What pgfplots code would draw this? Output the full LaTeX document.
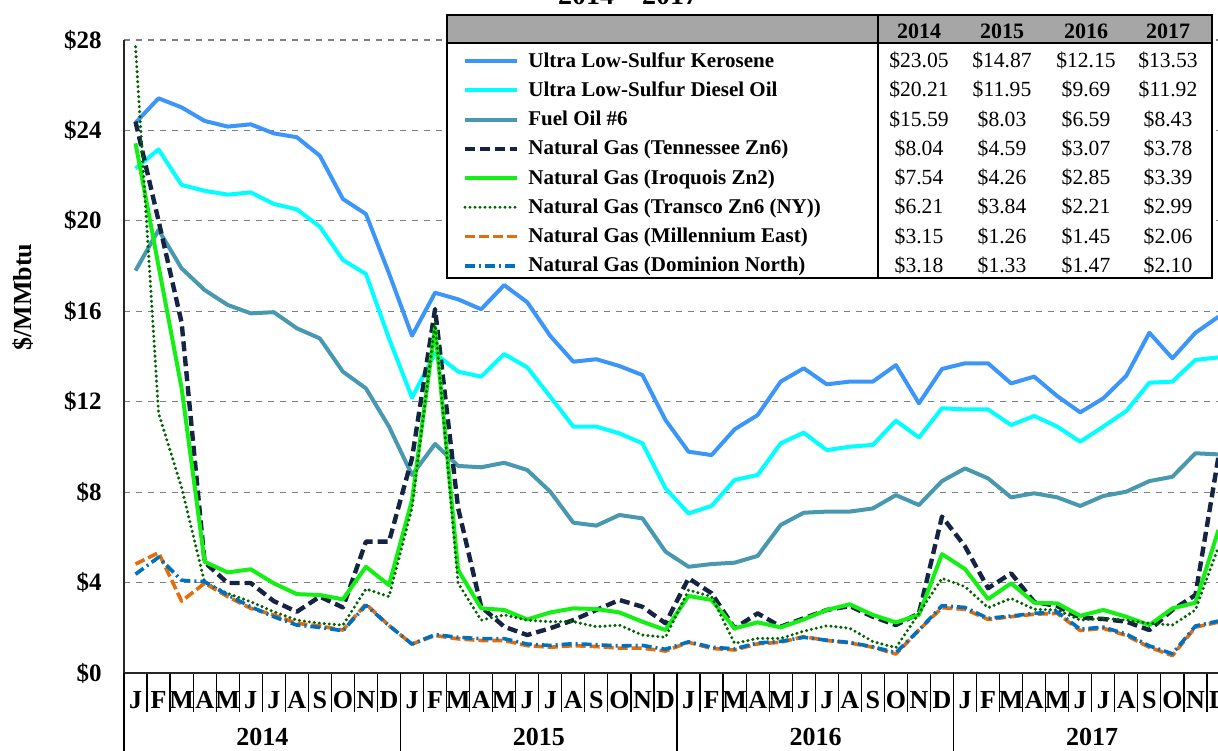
\documentclass[border=0pt]{standalone}
\usepackage{fontspec}
\setmainfont{Liberation Serif}
\usepackage{pgfplots}
\usepackage{pgfplotstable}
\pgfplotsset{compat=1.18}

\newcommand{\fs}[1]{\fontsize{#1}{#1}\selectfont}

\definecolor{kerC}{RGB}{60,150,250}
\definecolor{dslC}{RGB}{0,255,255}
\definecolor{fuoC}{RGB}{72,152,176}
\definecolor{tenC}{RGB}{20,36,66}
\definecolor{iroC}{RGB}{20,240,20}
\definecolor{traC}{RGB}{0,100,0}
\definecolor{milC}{RGB}{228,108,10}
\definecolor{domC}{RGB}{0,112,192}
\definecolor{hdrC}{RGB}{166,166,166}

\tikzset{
  kerS/.style={kerC, line width=2pt, line join=round},
  dslS/.style={dslC, line width=2pt, line join=round},
  fuoS/.style={fuoC, line width=2pt, line join=round},
  tenS/.style={tenC, line width=2.2pt, line join=round, dash pattern=on 5pt off 2.5pt},
  iroS/.style={iroC, line width=2pt, line join=round},
  traS/.style={traC, line width=1.7pt, line cap=round, dash pattern=on 0pt off 2.5pt},
  milS/.style={milC, line width=1.8pt, line join=round, dash pattern=on 5pt off 2pt},
  domS/.style={domC, line width=1.8pt, line join=round, dash pattern=on 5pt off 2pt on 1pt off 2pt},
}

% monthly average prices, $/MMbtu, Jan 2014 (m=0) .. Dec 2017 (m=47)
\pgfplotstableread{
m ker dsl fo6 ten iro tra mil dom
0 24.34 22.32 17.80 24.39 23.43 27.70 4.82 4.37
1 25.42 23.16 19.60 20.00 18.00 11.50 5.32 5.12
2 25.02 21.59 17.90 15.50 12.60 8.20 3.18 4.10
3 24.42 21.33 16.94 4.90 4.92 4.00 3.97 4.04
4 24.17 21.16 16.28 3.98 4.45 3.52 3.38 3.45
5 24.27 21.26 15.91 3.98 4.59 3.15 2.86 2.93
6 23.87 20.75 15.96 3.18 3.97 2.71 2.57 2.49
7 23.70 20.51 15.25 2.71 3.49 2.34 2.20 2.12
8 22.88 19.74 14.80 3.38 3.45 2.20 2.08 2.02
9 20.97 18.27 13.33 2.90 3.26 2.12 1.90 1.87
10 20.30 17.65 12.59 5.81 4.70 3.72 3.05 3.00
11 17.68 14.80 10.90 5.81 3.89 3.38 2.10 2.10
12 14.92 12.18 8.76 9.50 7.65 7.30 1.28 1.28
13 16.82 14.14 10.13 16.10 15.30 15.50 1.66 1.70
14 16.53 13.33 9.16 7.30 4.56 3.97 1.51 1.58
15 16.09 13.11 9.10 2.93 2.86 2.34 1.44 1.52
16 17.16 14.11 9.30 2.05 2.79 2.57 1.44 1.52
17 16.40 13.52 8.98 1.68 2.37 2.34 1.21 1.28
18 14.91 12.22 8.02 1.98 2.68 2.27 1.14 1.22
19 13.77 10.90 6.65 2.34 2.86 2.27 1.21 1.30
20 13.88 10.90 6.52 2.79 2.83 2.05 1.17 1.25
21 13.58 10.60 6.99 3.23 2.68 2.12 1.10 1.20
22 13.18 10.16 6.84 2.93 2.27 1.68 1.10 1.22
23 11.19 8.17 5.37 2.20 1.90 1.58 0.97 1.05
24 9.79 7.06 4.70 4.19 3.41 3.67 1.36 1.38
25 9.64 7.39 4.82 3.53 3.23 3.38 1.09 1.14
26 10.78 8.54 4.88 1.98 1.98 1.31 1.02 1.07
27 11.41 8.76 5.18 2.64 2.24 1.53 1.29 1.33
28 12.89 10.16 6.55 2.05 2.02 1.53 1.36 1.40
29 13.48 10.63 7.09 2.42 2.37 1.85 1.61 1.58
30 12.77 9.86 7.14 2.79 2.79 2.09 1.44 1.45
31 12.89 10.01 7.14 2.96 3.04 1.98 1.33 1.35
32 12.89 10.09 7.28 2.49 2.57 1.39 1.14 1.16
33 13.62 11.16 7.87 2.12 2.24 1.12 0.84 0.90
34 11.93 10.42 7.43 2.64 2.57 2.64 1.90 1.90
35 13.45 11.71 8.49 6.92 5.26 4.19 2.89 2.98
36 13.70 11.66 9.05 5.60 4.60 3.82 2.82 2.90
37 13.70 11.66 8.61 3.75 3.27 2.89 2.37 2.42
38 12.81 10.97 7.77 4.41 3.97 3.30 2.49 2.52
39 13.11 11.37 7.95 3.15 3.11 2.82 2.60 2.64
40 12.25 10.90 7.77 2.96 3.08 2.79 2.64 2.70
41 11.53 10.23 7.39 2.45 2.53 2.34 1.88 1.94
42 12.15 10.90 7.83 2.39 2.79 2.42 1.98 2.03
43 13.15 11.59 8.02 2.27 2.49 2.34 1.66 1.72
44 15.05 12.84 8.49 1.90 2.12 2.20 1.14 1.20
45 13.92 12.89 8.68 2.79 2.86 2.12 0.77 0.85
46 15.05 13.85 9.72 3.45 3.11 2.79 2.03 2.08
47 15.76 13.96 9.67 9.57 6.33 5.59 2.25 2.30
}\fuel

\begin{document}
\begin{tikzpicture}
% page = 1218 x 750 px, 1 px = 0.5 pt, origin at top left
\path[use as bounding box] (0,0) rectangle (609pt,-375pt);

\node[anchor=base, font=\bfseries\fs{14}] at (314pt,-2pt) {2014 -- 2017};

\begin{axis}[
    at={(62pt,-336.5pt)}, anchor=south west,
    scale only axis, width=553pt, height=316.5pt,
    xmin=-0.5, xmax=47.5, ymin=0, ymax=28,
    axis x line*=bottom, axis y line*=left,
    axis line style={line width=1pt, black!85},
    ytick={0,4,...,28},
    yticklabel={\$\pgfmathprintnumber{\tick}},
    /pgf/number format/assume math mode=true,
    yticklabel style={font=\bfseries\fs{12.5}, anchor=east, inner sep=0pt, xshift=-11pt},
    ymajorgrids, grid style={dashed, gray, line width=0.6pt},
    xtick={0,...,47},
    xticklabels={J,F,M,A,M,J,J,A,S,O,N,D,J,F,M,A,M,J,J,A,S,O,N,D,
                 J,F,M,A,M,J,J,A,S,O,N,D,J,F,M,A,M,J,J,A,S,O,N,D},
    xticklabel style={font=\bfseries\fs{13}, anchor=base, inner sep=0pt, yshift=-17.5pt},
    minor xtick={-0.5,0.5,...,47.5},
    extra x ticks={-0.5,11.5,23.5,35.5,47.5}, extra x tick labels={},
    extra x tick style={major tick length=40pt},
    major tick length=0pt, minor tick length=19.5pt, tick align=outside,
    tick style={black, line width=0.6pt},
]
\addplot[kerS] table[x=m, y=ker] {\fuel};
\addplot[dslS] table[x=m, y=dsl] {\fuel};
\addplot[fuoS] table[x=m, y=fo6] {\fuel};
\addplot[tenS] table[x=m, y=ten] {\fuel};
\addplot[iroS] table[x=m, y=iro] {\fuel};
\addplot[traS] table[x=m, y=tra] {\fuel};
\addplot[milS] table[x=m, y=mil] {\fuel};
\addplot[domS] table[x=m, y=dom] {\fuel};
\end{axis}

\begin{scope}[x=0.5pt, y=-0.5pt]
  % axis title and year labels
  \node[rotate=90, font=\bfseries\fs{13}] at (23,297) {\$/MMbtu};
  \foreach \xx/\yr in {262.3/2014, 538.9/2015, 815.5/2016, 1092.1/2017}
    \node[anchor=base, font=\bfseries\fs{13}] at (\xx,745) {\yr};

  % legend table
  \fill[white] (447,15) rectangle (1212,278);
  \fill[hdrC] (447,15) rectangle (1212,43);
  \draw[black, line width=1pt] (447,43) -- (1212,43);
  \draw[black, line width=1pt] (878,15) -- (878,278);
  \draw[black, line width=1.2pt] (447,15) rectangle (1212,278);
  \foreach \xx/\yr in {919/2014, 1002/2015, 1086/2016, 1168/2017}
    \node[anchor=base, font=\bfseries\fs{11}, inner sep=0pt] at (\xx,38.5) {\yr};
  \foreach \k/\sty/\lab/\a/\b/\c/\d in {
      0/kerS/Ultra Low-Sulfur Kerosene/23.05/14.87/12.15/13.53,
      1/dslS/Ultra Low-Sulfur Diesel Oil/20.21/11.95/9.69/11.92,
      2/fuoS/Fuel Oil \#6/15.59/8.03/6.59/8.43,
      3/tenS/Natural Gas (Tennessee Zn6)/8.04/4.59/3.07/3.78,
      4/iroS/Natural Gas (Iroquois Zn2)/7.54/4.26/2.85/3.39,
      5/traS/Natural Gas (Transco Zn6 (NY))/6.21/3.84/2.21/2.99,
      6/milS/Natural Gas (Millennium East)/3.15/1.26/1.45/2.06,
      7/domS/Natural Gas (Dominion North)/3.18/1.33/1.47/2.10} {
    \draw[\sty] (465,{61+29.25*\k}) -- (517,{61+29.25*\k});
    \node[anchor=base west, inner sep=0pt, font=\bfseries\fs{10.5}] at (528,{67+29.25*\k}) {\lab};
    \node[anchor=base, inner sep=0pt, font=\fs{10.8}] at (919,{67.5+29.25*\k}) {\$\a};
    \node[anchor=base, inner sep=0pt, font=\fs{10.8}] at (1002,{67.5+29.25*\k}) {\$\b};
    \node[anchor=base, inner sep=0pt, font=\fs{10.8}] at (1086,{67.5+29.25*\k}) {\$\c};
    \node[anchor=base, inner sep=0pt, font=\fs{10.8}] at (1168,{67.5+29.25*\k}) {\$\d};
  }
\end{scope}
\end{tikzpicture}
\end{document}
